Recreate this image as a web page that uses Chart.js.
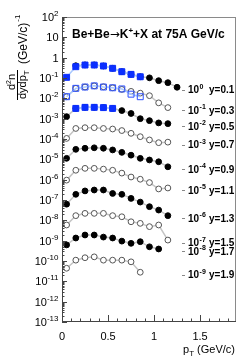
<!DOCTYPE html>
<html><head><meta charset="utf-8">
<script src="https://cdn.jsdelivr.net/npm/chart.js@4.4.1/dist/chart.umd.min.js"></script>
<style>html,body{margin:0;padding:0;background:#fff;}#c{display:block;}</style>
</head><body>
<canvas id="c" width="249" height="361"></canvas>
<script>
// ---- data (bin centres in pT, GeV/c) ----
const pT = [0.05,0.15,0.25,0.35,0.45,0.55,0.65,0.75,0.85,0.95,1.05,1.15,1.25];

// spectra, already multiplied by the scale factor shown in each label
const y01 = [null,0.40,0.44,0.44,0.39,0.30,0.204,0.151,0.115,0.102,0.074,0.059,0.035];
const y01b = [0.108,0.36,0.435,0.435,0.39,0.30,0.204,0.151,0.115];
const y03 = [0.012,0.031,0.036,0.041,0.037,0.033,0.0275,0.022,0.018,0.0135,0.006,0.0035];
const y03b = [0.012,0.031,0.036,0.041,0.036,0.033,0.029,0.016,0.012];
const y05 = [0.00126,0.0032,0.0036,0.0036,0.0035,0.0032,0.0025,0.0018,0.001,0.0008,0.00062,0.00057];
const y05b = [null,0.0032,0.0036,0.0036,0.0035,0.0032];
const y07 = [1.07e-4,3.3e-4,3.6e-4,3.6e-4,3.3e-4,3.1e-4,2.6e-4,1.9e-4,1.3e-4,9e-5,6.6e-5,7e-5];
const y09 = [1.12e-5,3.1e-5,3.5e-5,3.7e-5,3.5e-5,2.9e-5,2.2e-5,1.6e-5,1.12e-5,9.3e-6,7.6e-6,4.3e-6];
const y11 = [9.5e-7,2.9e-6,3.6e-6,3.6e-6,3.3e-6,2.9e-6,2.1e-6,1.35e-6,1.05e-6,7.2e-7,3.5e-7,3.9e-7];
const y13 = [6.2e-8,1.9e-7,2.8e-7,3.1e-7,3.1e-7,2.1e-7,1.9e-7,1.2e-7,7.9e-8,4.7e-8,3.2e-8,1.7e-8];
const y15 = [5.9e-9,1.7e-8,2.2e-8,2.2e-8,2.2e-8,1.7e-8,1.5e-8,8.5e-9,7.1e-9,4.9e-9,5.9e-9,1.07e-9];
const y17 = [6.2e-10,1.35e-9,1.9e-9,1.9e-9,1.5e-9,1.35e-9,9.5e-10,7.4e-10,8.9e-10,5.0e-10,3.9e-10];
const y19 = [4.4e-11,1.1e-10,1.45e-10,1.6e-10,1.1e-10,1.1e-10,1.1e-10,9.1e-11,2.8e-11];

const rowSeries = [y01,y03,y05,y07,y09,y11,y13,y15,y17,y19];
const rowExp = [0,-1,-2,-3,-4,-5,-6,-7,-8,-9];
const rowRap = ['0.1','0.3','0.5','0.7','0.9','1.1','1.3','1.5','1.7','1.9'];
const rowFilled = [true,false,true,false,true,false,true,false,true,false];

const xTickLabels = [0,0.5,1,1.5];
const yTickExp = [2,1,0,-1,-2,-3,-4,-5,-6,-7,-8,-9,-10,-11,-12,-13];

const titleText = ['Be+Be', '\u2192', 'K', '+', '+X at 75A GeV/c'];
const xTitle = ['p', 'T', ' (GeV/c)'];

// ---- build datasets ----
const toPts = arr => arr.map((v,i)=> v==null?null:{x:pT[i], y:v}).filter(p=>p);
const datasets = [];
rowSeries.forEach((s,i)=>{
  const filled = rowFilled[i];
  datasets.push({
    data: toPts(s), order: 2,
    borderColor: '#c4c4c4', borderWidth: 1.5, tension: 0,
    pointStyle: 'circle', pointRadius: 2.9,
    pointBackgroundColor: filled ? '#000' : '#fff',
    pointBorderColor: filled ? '#000' : '#555',
    pointBorderWidth: 1
  });
});
datasets.push({data: toPts(y01b), order: 0, borderColor:'#a9c8ff', borderWidth:1.5, tension:0,
  pointStyle:'rect', pointRadius:4.2, pointBackgroundColor:'#0b2fff', pointBorderColor:'#0b2fff', pointBorderWidth:1});
datasets.push({data: toPts(y03b), order: 0, borderColor:'#a9c8ff', borderWidth:1.5, tension:0,
  pointStyle:'rect', pointRadius:4.2, pointBackgroundColor:'rgba(255,255,255,0)', pointBorderColor:'#2b4fff', pointBorderWidth:1});
datasets.push({data: toPts(y05b), order: 0, borderColor:'#a9c8ff', borderWidth:1.5, tension:0,
  pointStyle:'rect', pointRadius:4.2, pointBackgroundColor:'#0b2fff', pointBorderColor:'#0b2fff', pointBorderWidth:1});

const FONT = '"Liberation Sans", Arial, Helvetica, sans-serif';

const decor = {
  id: 'decor',
  afterDraw(chart){
    const {ctx, chartArea:a, scales:{x, y}} = chart;
    ctx.save();
    const line = (x1,y1,x2,y2)=>{ctx.beginPath();ctx.moveTo(x1,y1);ctx.lineTo(x2,y2);ctx.stroke();};
    // frame
    ctx.lineWidth = 1;
    ctx.strokeStyle = '#8a8a8a';
    line(a.left, a.top+0.5, a.right, a.top+0.5);
    line(a.right-0.5, a.top, a.right-0.5, a.bottom);
    ctx.strokeStyle = '#444';
    line(a.left+0.5, a.top, a.left+0.5, a.bottom);
    line(a.left, a.bottom-0.5, a.right, a.bottom-0.5);
    // y ticks (inside)
    for (let e=-13; e<=2; e++){
      for (let m=1; m<=9; m++){
        const v = m*Math.pow(10,e);
        if (v > 100.0001) break;
        const py = Math.round(y.getPixelForValue(v))+0.5;
        line(a.left, py, a.left + (m===1?5:2.5), py);
      }
    }
    // x ticks (inside)
    for (let i=0; i<=18; i++){
      const v = i/10;
      const px = Math.round(x.getPixelForValue(v))+0.5;
      line(px, a.bottom, px, a.bottom - (i%5===0?7:3.5));
    }
    // y tick labels
    ctx.fillStyle = '#000';
    ctx.textBaseline = 'alphabetic';
    yTickExp.forEach(e=>{
      const py = y.getPixelForValue(Math.pow(10,e));
      const right = 58.5;
      if (e===0 || e===1){
        ctx.font = '11px '+FONT; ctx.textAlign='right';
        ctx.fillText(e===0?'1':'10', right, py+4);
      } else {
        ctx.font = '8px '+FONT; ctx.textAlign='right';
        const sup = String(e);
        const w = ctx.measureText(sup).width;
        ctx.fillText(sup, right, py-1);
        ctx.font = '11px '+FONT;
        ctx.fillText('10', right - w, py+4);
      }
    });
    // x tick labels
    ctx.font = '11px '+FONT; ctx.textAlign='center';
    xTickLabels.forEach(v=>{
      ctx.fillText(String(v), x.getPixelForValue(v), 340);
    });
    // x title
    ctx.textAlign='left';
    ctx.font = '11px '+FONT;
    const wRest = ctx.measureText(xTitle[2]).width;
    const wp = ctx.measureText(xTitle[0]).width;
    ctx.font = '8px '+FONT;
    const wT = ctx.measureText(xTitle[1]).width;
    let xs = 235 - wRest - wT - wp;
    ctx.font = '11px '+FONT; ctx.fillText(xTitle[0], xs, 353);
    ctx.font = '8px '+FONT; ctx.fillText(xTitle[1], xs+wp, 356);
    ctx.font = '11px '+FONT; ctx.fillText(xTitle[2], xs+wp+wT, 353);
    // y title (rotated)
    ctx.save();
    ctx.rotate(-Math.PI/2);
    ctx.textAlign='center';
    ctx.font = '11px '+FONT;
    ctx.fillText('d', -87, 15);
    let wd = ctx.measureText('d').width;
    ctx.font = '7px '+FONT; ctx.textAlign='left';
    ctx.fillText('2', -87+wd/2, 11);
    ctx.font = '11px '+FONT; ctx.fillText('n', -87+wd/2+4, 15);
    ctx.textAlign='left';
    ctx.fillText('dydp', -99, 25.5);
    const wdy = ctx.measureText('dydp').width;
    ctx.font = '8px '+FONT; ctx.fillText('T', -99+wdy, 28.5);
    ctx.strokeStyle='#000'; ctx.lineWidth=1;
    ctx.beginPath(); ctx.moveTo(-100, 17.5); ctx.lineTo(-70, 17.5); ctx.stroke();
    ctx.font = '12px '+FONT;
    ctx.fillText('(GeV/c)', -64, 27);
    const wg = ctx.measureText('(GeV/c)').width;
    ctx.font = '8px '+FONT;
    ctx.fillText('-1', -64+wg+1, 20);
    ctx.restore();
    // title
    ctx.textAlign='left';
    let tx = 72;
    ctx.font = 'bold 12px '+FONT;
    ctx.fillText(titleText[0], tx, 38); tx += ctx.measureText(titleText[0]).width;
    ctx.font = '12px "DejaVu Sans", sans-serif';
    ctx.fillText(titleText[1], tx, 38); tx += ctx.measureText(titleText[1]).width;
    ctx.font = 'bold 12px '+FONT;
    ctx.fillText(titleText[2], tx, 38); tx += ctx.measureText(titleText[2]).width;
    ctx.font = 'bold 8px '+FONT; ctx.fillText(titleText[3], tx, 33); tx += ctx.measureText(titleText[3]).width;
    ctx.font = 'bold 12px '+FONT; ctx.fillText(titleText[4], tx, 38);
    // row labels
    rowSeries.forEach((s,i)=>{
      let last = null;
      for (let k=s.length-1;k>=0;k--){ if (s[k]!=null){ last=s[k]; break; } }
      const py = y.getPixelForValue(last) + 2.5;
      ctx.strokeStyle='#888'; ctx.lineWidth=1;
      line(182, Math.round(py)+0.5, 185, Math.round(py)+0.5);
      ctx.fillStyle='#000';
      ctx.font = 'bold 10px '+FONT; ctx.textAlign='left';
      ctx.fillText('10', 188, py+3.5);
      const w10 = ctx.measureText('10').width;
      ctx.font = 'bold 7px '+FONT;
      ctx.fillText(String(rowExp[i]), 188+w10+0.5, py-1);
      ctx.font = 'bold 10px '+FONT;
      ctx.fillText('y=' + rowRap[i], 209, py+3.5);
    });
    ctx.restore();
  }
};

new Chart(document.getElementById('c').getContext('2d'), {
  type: 'line',
  data: { datasets },
  options: {
    responsive: false, animation: false, devicePixelRatio: 1,
    layout: { padding: { left: 0, right: 13, top: 17, bottom: 0 } },
    plugins: { legend: { display: false }, tooltip: { enabled: false } },
    scales: {
      x: { type: 'linear', min: 0, max: 1.89, ticks: { display: false }, grid: { display: false }, border: { display: false },
           afterFit(s){ s.height = 39; } },
      y: { type: 'logarithmic', min: 1e-13, max: 100, ticks: { display: false }, grid: { display: false }, border: { display: false },
           afterFit(s){ s.width = 62; } }
    }
  },
  plugins: [decor]
});
</script>
</body></html>
